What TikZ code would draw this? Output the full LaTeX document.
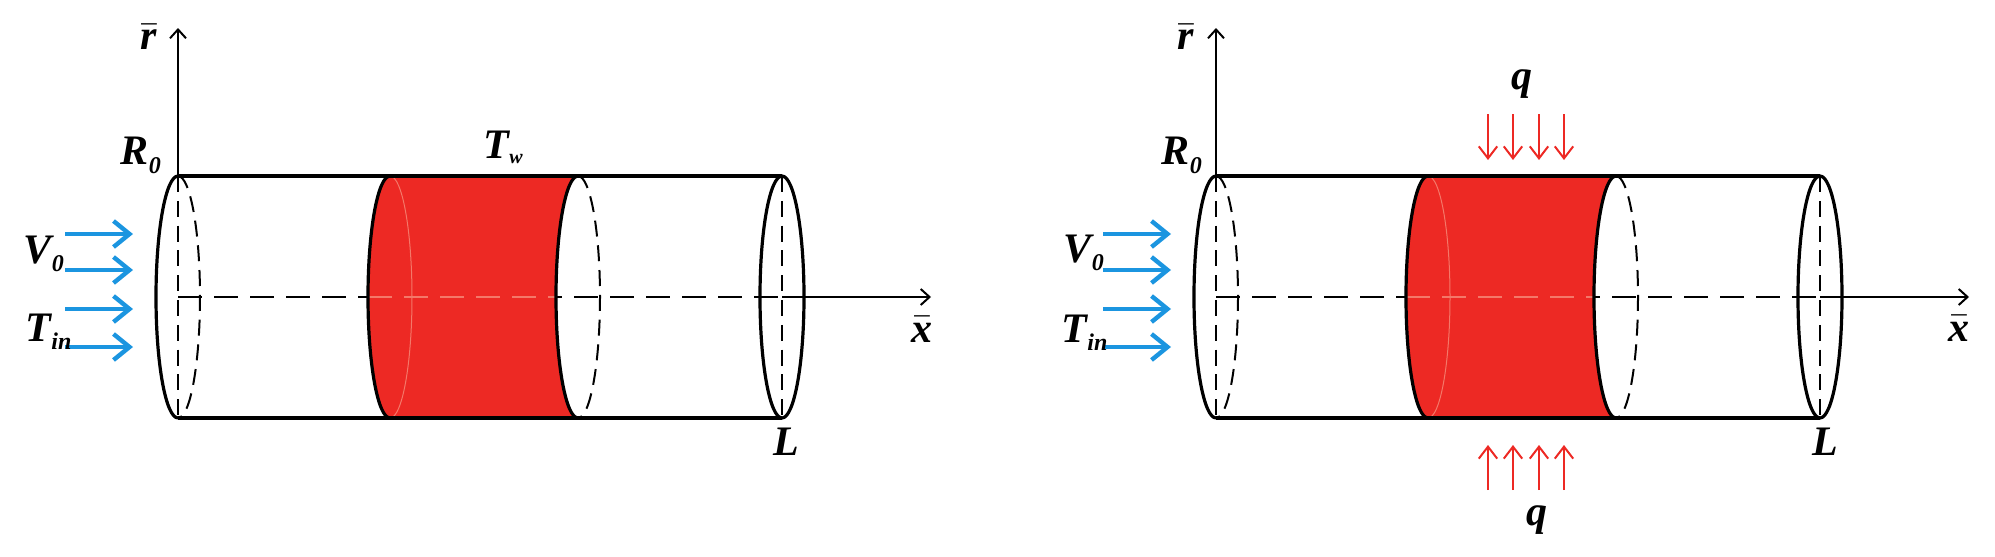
\documentclass[tikz,border=0pt]{standalone}
\usepackage{fontspec}
\setmainfont{Liberation Serif}
\usetikzlibrary{arrows.meta,positioning}
\definecolor{heatred}{RGB}{237,41,36}
\definecolor{flowblue}{RGB}{27,149,224}
\definecolor{palered}{RGB}{244,120,105}
\tikzstyle{tubeline} = [line width=0.8pt]
\tikzstyle{hidden} = [line width=0.5pt, dash pattern=on 4pt off 2.2pt]
\tikzstyle{axisdash} = [line width=0.5pt, dash pattern=on 6pt off 3pt]
\tikzstyle{axisarrow} = [line width=0.5pt, -{Straight Barb[length=2.2pt,width=4pt]}]
\tikzstyle{flowarrow} = [line width=1.1pt, color=flowblue, -{Straight Barb[length=4pt,width=6.5pt]}]
\tikzstyle{heatarrow} = [line width=0.5pt, color=heatred, -{Straight Barb[length=3pt,width=4.6pt]}]
\tikzstyle{sym} = [font=\fontsize{10.5}{12}\selectfont\bfseries\itshape, inner sep=0pt, anchor=base]
\newcommand{\lowsub}[1]{\raisebox{-2.2pt}{\fontsize{6}{7}\selectfont #1}}
% one tube, axis origin at (0,297)
\newcommand{\drawtube}{%
  \coordinate (top) at (0,176);
  \coordinate (rtip) at (0,28);
  \coordinate (endmid) at (604,297);
  \coordinate (xtip) at (753,297);
  \draw[axisdash] (0,297) -- (endmid);
  % heated band
  \fill[heatred] (212,176) arc[start angle=270,end angle=90,x radius=22,y radius=121]
    -- (400,418) arc[start angle=90,end angle=270,x radius=22,y radius=121] -- cycle;
  \draw[palered, axisdash, line width=0.3pt] (190,297) -- (378,297);
  \draw[palered, line width=0.25pt] (212,176) arc[start angle=270,end angle=450,x radius=22,y radius=121];
  % walls
  \draw[tubeline] (0,176) -- (604,176);
  \draw[tubeline] (0,418) -- (604,418);
  % inlet
  \draw[tubeline] (0,176) arc[start angle=270,end angle=90,x radius=22,y radius=121];
  \draw[hidden] (0,176) arc[start angle=270,end angle=450,x radius=22,y radius=121];
  \draw[hidden] (0,176) -- (0,418);
  % band edges
  \draw[tubeline] (212,176) arc[start angle=270,end angle=90,x radius=22,y radius=121];
  \draw[tubeline] (400,176) arc[start angle=270,end angle=90,x radius=22,y radius=121];
  \draw[hidden] (400,176) arc[start angle=270,end angle=450,x radius=22,y radius=121];
  % outlet
  \draw[tubeline] (endmid) ellipse[x radius=22,y radius=121];
  \draw[hidden] (604,176) -- (604,418);
  % axes
  \draw[axisarrow] (endmid) -- (xtip);
  \draw[axisarrow] (top) -- (rtip);
  % inflow
  \coordinate (f1) at (-113,234);
  \coordinate (f2) at (-113,270);
  \coordinate (f3) at (-113,309);
  \coordinate (f4) at (-113,347);
  \draw[flowarrow] (f1) -- ++(68,0);
  \draw[flowarrow] (f2) -- ++(68,0);
  \draw[flowarrow] (f3) -- ++(68,0);
  \draw[flowarrow] (f4) -- ++(68,0);
}

\begin{document}
\begin{tikzpicture}[x=0.25pt,y=-0.25pt]
\useasboundingbox (0,0) rectangle (1995,557);

% Left: wall temperature
\begin{scope}[shift={(178,0)}]
\drawtube
\node (rlabA) [sym] at (-29,50) {$\bar{\mbox{r}}$};
\node (RzeroA) [sym, anchor=base west] at (-58,165) {R\lowsub{0}};
\node (TwallA) [sym, anchor=base west] at (305,158) {T\raisebox{-1.4pt}{\fontsize{5}{6}\selectfont w}};
\node (VzeroA) [sym, anchor=base west] at (-155,263) {V\lowsub{0}};
\node (TinA) [sym, anchor=base west] at (-153,341) {T\lowsub{in}};
\node (xlabA) [sym] at (744,342) {$\bar{\mbox{x}}$};
\node (LlabA) [sym] at (608,455) {L};
\end{scope}

% Right: heat flux
\begin{scope}[shift={(1216,0)}]
\drawtube
\node (rlabB) [sym] at (-30,50) {$\bar{\mbox{r}}$};
\node (RzeroB) [sym, anchor=base west] at (-55,165) {R\lowsub{0}};
\node (VzeroB) [sym, anchor=base west] at (-153,262) {V\lowsub{0}};
\node (TinB) [sym, anchor=base west] at (-155,342) {T\lowsub{in}};
\node (xlabB) [sym] at (743,341) {$\bar{\mbox{x}}$};
\node (LlabB) [sym] at (609,455) {L};
\node (qtopB) [sym] at (306,90) {q};
\node (qbotB) [sym] at (321,525) {q};
\foreach \hx in {272,297,323,348} {
  \coordinate (hs) at (\hx,114);
  \coordinate (he) at (\hx,160);
  \draw[heatarrow] (hs) -- (he);
  \coordinate (hs) at (\hx,490);
  \coordinate (he) at (\hx,445);
  \draw[heatarrow] (hs) -- (he);
}
\end{scope}
\end{tikzpicture}
\end{document}
